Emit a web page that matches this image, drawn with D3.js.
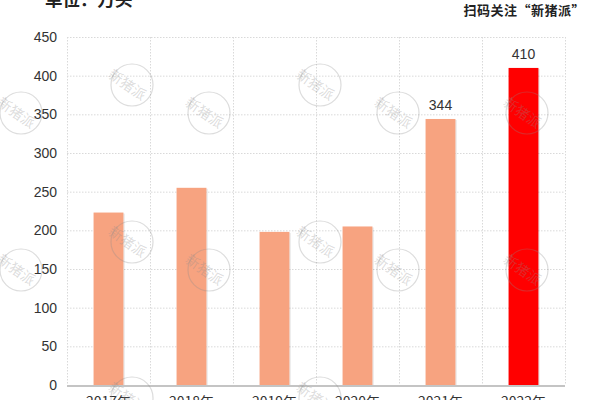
<!DOCTYPE html>
<html>
<head>
<meta charset="utf-8">
<script src="https://cdn.jsdelivr.net/npm/d3@7/dist/d3.min.js"></script>
<style>
  html, body { margin: 0; padding: 0; background: #fff; }
  svg { display: block; }
</style>
</head>
<body>
<svg id="chart" width="600" height="400"></svg>
<script>
// ---- data ----
const categories = ["2017年", "2018年", "2019年", "2020年", "2021年", "2022年"];
const values = [223, 255, 198, 205, 344, 410];
const labeledValues = [false, false, false, false, true, true];
const highlight = [false, false, false, false, false, true];
const yTicks = [0, 50, 100, 150, 200, 250, 300, 350, 400, 450];
const unitText = "单位：万头";
const sourceText = "扫码关注“新猪派”";
const watermarkText = "新猪派";

// ---- layout ----
const W = 600, H = 400;
const plot = { left: 67, right: 565, top: 37, bottom: 385 };
const watermarks = [
  [132, 85], [320, 85],
  [21, 113], [209, 113], [398, 113], [527, 113],
  [132, 242], [320, 242],
  [21, 270], [209, 270], [398, 270], [527, 270],
  [132, 398], [320, 398]
];

const svg = d3.select("#chart");
const numFont = "'Liberation Sans', Arial, sans-serif";
const cjkFont = "'Noto Sans CJK SC', 'Liberation Sans', sans-serif";

const x = d3.scaleBand().domain(categories).range([plot.left, plot.right]).paddingInner(0).paddingOuter(0);
const y = d3.scaleLinear().domain([0, 450]).range([plot.bottom, plot.top]);
const barW = x.bandwidth() * 0.36;

// grid: horizontal dotted
svg.append("g").selectAll("line").data(yTicks.filter(d => d > 0)).join("line")
  .attr("x1", plot.left).attr("x2", plot.right)
  .attr("y1", d => y(d) + 0.5).attr("y2", d => y(d) + 0.5)
  .attr("stroke", "#d9d9d9").attr("stroke-width", 1).attr("stroke-dasharray", "1.5,1.5");

// grid: vertical dotted at band boundaries
const vlines = categories.map(c => x(c)).concat([plot.right]);
svg.append("g").selectAll("line").data(vlines).join("line")
  .attr("x1", d => Math.round(d) + 0.5).attr("x2", d => Math.round(d) + 0.5)
  .attr("y1", plot.top).attr("y2", plot.bottom)
  .attr("stroke", "#d9d9d9").attr("stroke-width", 1).attr("stroke-dasharray", "1.5,1.5");

// y axis labels
const yAxis = d3.axisLeft(y).tickValues(yTicks).tickSize(0).tickPadding(10);
const gy = svg.append("g").attr("transform", `translate(${plot.left},0)`).call(yAxis);
gy.select(".domain").remove();
gy.selectAll("text").attr("font-family", numFont).attr("font-size", 14).attr("fill", "#333");

// bar shadows
svg.append("g").selectAll("rect").data(values).join("rect")
  .attr("x", (d, i) => x(categories[i]) + (x.bandwidth() - barW) / 2 + 1.5)
  .attr("y", d => y(d) + 1)
  .attr("width", barW)
  .attr("height", d => plot.bottom - y(d) - 1)
  .attr("fill", "#000").attr("opacity", 0.07);

// bars
svg.append("g").selectAll("rect").data(values).join("rect")
  .attr("x", (d, i) => x(categories[i]) + (x.bandwidth() - barW) / 2)
  .attr("y", d => y(d))
  .attr("width", barW)
  .attr("height", d => plot.bottom - y(d))
  .attr("fill", (d, i) => highlight[i] ? "#FF0000" : "#F7A380");

// value labels
svg.append("g").selectAll("text").data(values.map((v, i) => ({ v, i })).filter(d => labeledValues[d.i])).join("text")
  .attr("x", d => x(categories[d.i]) + x.bandwidth() / 2)
  .attr("y", d => y(d.v) - 9)
  .attr("text-anchor", "middle")
  .attr("font-family", numFont).attr("font-size", 14).attr("fill", "#333")
  .text(d => d.v);

// x axis
const xAxis = d3.axisBottom(x).tickSize(0).tickPadding(12);
const gx = svg.append("g").attr("transform", `translate(0,${plot.bottom})`).call(xAxis);
gx.select(".domain").remove();
gx.selectAll("text").attr("font-family", cjkFont).attr("font-size", 14).attr("fill", "#333");
svg.append("line")
  .attr("x1", plot.left).attr("x2", plot.right)
  .attr("y1", plot.bottom + 1).attr("y2", plot.bottom + 1)
  .attr("stroke", "#c4c4c4").attr("stroke-width", 2);

// watermarks
const wm = svg.append("g").attr("pointer-events", "none");
watermarks.forEach(([cx, cy]) => {
  const g = wm.append("g").attr("transform", `translate(${cx},${cy})`);
  g.append("circle").attr("r", 21).attr("fill", "none")
    .attr("stroke", "rgba(140,140,140,0.3)").attr("stroke-width", 1.2);
  g.append("text").attr("transform", "translate(-4,-1) rotate(35)")
    .attr("text-anchor", "middle").attr("dominant-baseline", "central")
    .attr("font-family", cjkFont).attr("font-size", 14)
    .attr("fill", "rgba(140,140,140,0.3)")
    .text(watermarkText);
});

// titles
svg.append("text").attr("x", 45).attr("y", 6)
  .attr("font-family", cjkFont).attr("font-size", 17.5).attr("font-weight", "bold").attr("fill", "#222")
  .text(unitText);
svg.append("text").attr("x", 585).attr("y", 15).attr("text-anchor", "end")
  .attr("font-family", cjkFont).attr("font-size", 13).attr("font-weight", "bold").attr("fill", "#222")
  .attr("letter-spacing", 0.5)
  .text(sourceText);
</script>
</body>
</html>
